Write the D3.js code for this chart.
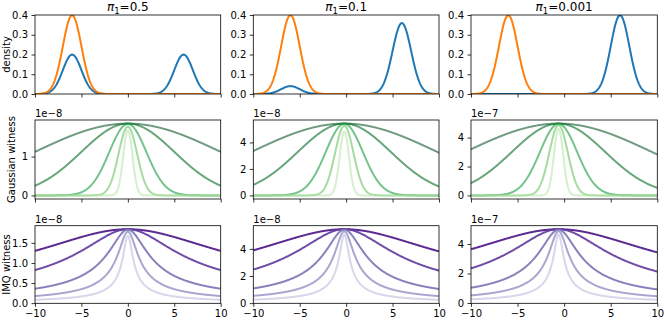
<!DOCTYPE html>
<meta charset="utf-8">
<style>
body { margin: 0; background: #fff; }
svg text { font-family: "DejaVu Sans", sans-serif; fill: #000; }
.tick text { font-size: 10px; }
.tick line { stroke: #000; stroke-width: 0.8px; }
.domain { display: none; }
.frame { fill: none; stroke: #000; stroke-width: 0.8px; }
</style>
<svg width="664" height="321"></svg>
<script src="https://d3js.org/d3.v7.min.js"></script>
<script>

// ---- data ----
var piValues = ["0.5", "0.1", "0.001"];
var mixWeights = [0.5, 0.1, 0.001];     // weight of the left mode in the blue mixture
var modeCenters = [-6, 6];
var modeSd = 1;

var lengthscales = [10, 5, 2, 1, 0.5];
var witnessCenters = [0, -0.2, -0.6];
var gaussPeaks = [
  [1.85, 1.85, 1.84, 1.77, 1.68],
  [5.42, 5.42, 5.40, 5.25, 4.84],
  [4.97, 4.97, 4.95, 4.86, 4.60]
];
var imqPeaks = [
  [1.84, 1.84, 1.83, 1.78, 1.68],
  [5.45, 5.45, 5.42, 5.30, 5.05],
  [5.00, 5.00, 4.97, 4.88, 4.65]
];
var exponents = [-8, -8, -7];

var xTicks = [-10, -5, 0, 5, 10];
var densityTicks = [0.0, 0.1, 0.2, 0.3, 0.4];
var gaussTicks = [[0, 1], [0, 2, 4], [0, 2, 4]];
var imqTicks = [[0.0, 0.5, 1.0, 1.5], [0, 2, 4], [0, 2, 4]];
var gaussTickFmt = [d3.format("d"), d3.format("d"), d3.format("d")];
var imqTickFmt = [d3.format(".1f"), d3.format("d"), d3.format("d")];

var greens = ["#0f5a2b", "#006b21", "#179b3c", "#6bc361", "#b9e4af"];
var purples = ["#4a1486", "#5f3a9d", "#7b74b5", "#a09ccb", "#d3d2e8"];

// ---- layout ----
var svg = d3.select("svg");
var colX = [[35, 220.7], [253.3, 439], [471, 657.3]];
var rowY = [[15, 94], [120, 199], [225.7, 303.3]];
var yLabelX = [10, 15, 10];

var xGrid = d3.range(-10, 10.0001, 0.05);

function normal(x, m, s) {
  return Math.exp(-0.5 * ((x - m) / s) * ((x - m) / s)) / (s * Math.sqrt(2 * Math.PI));
}

function padDomain(lo, hi) {
  var r = hi - lo;
  return [lo - 0.05 * r, hi + 0.05 * r];
}

function drawPanel(col, row, series, yDomain, yTicks, yFmt, showX) {
  var x = d3.scaleLinear().domain([-10, 10]).range(colX[col]);
  var y = d3.scaleLinear().domain(yDomain).range([rowY[row][1], rowY[row][0]]);
  var g = svg.append("g");

  var clipId = "clip" + row + col;
  g.append("clipPath").attr("id", clipId).append("rect")
      .attr("x", colX[col][0]).attr("y", rowY[row][0])
      .attr("width", colX[col][1] - colX[col][0])
      .attr("height", rowY[row][1] - rowY[row][0]);

  var line = d3.line().x(function(d) { return x(d[0]); }).y(function(d) { return y(d[1]); });

  g.append("g").attr("clip-path", "url(#" + clipId + ")")
    .selectAll("path")
    .data(series)
    .enter().append("path")
      .attr("d", function(s) { return line(s.points); })
      .attr("fill", "none")
      .attr("stroke", function(s) { return s.color; })
      .attr("stroke-opacity", function(s) { return s.opacity; })
      .attr("stroke-width", 2)
      .attr("stroke-linejoin", "round");

  g.append("rect").attr("class", "frame")
      .attr("x", colX[col][0]).attr("y", rowY[row][0])
      .attr("width", colX[col][1] - colX[col][0])
      .attr("height", rowY[row][1] - rowY[row][0]);

  var xAxis = d3.axisBottom(x).tickValues(xTicks).tickSize(3.5).tickPadding(3.5)
      .tickFormat(showX ? function(d) { return String(d).replace("-", "\u2212"); } : "");
  g.append("g").attr("transform", "translate(0," + rowY[row][1] + ")").call(xAxis);

  var yAxis = d3.axisLeft(y).tickValues(yTicks).tickSize(3.5).tickPadding(3.5).tickFormat(yFmt);
  g.append("g").attr("transform", "translate(" + colX[col][0] + ",0)").call(yAxis);
  return g;
}

piValues.forEach(function(pv, c) {
  // row 1: densities
  var w = mixWeights[c];
  var blue = xGrid.map(function(t) {
    return [t, w * normal(t, modeCenters[0], modeSd) + (1 - w) * normal(t, modeCenters[1], modeSd)];
  });
  var orange = xGrid.map(function(t) { return [t, normal(t, modeCenters[0], modeSd)]; });
  drawPanel(c, 0, [
    { points: blue, color: "#1f77b4", opacity: 1 },
    { points: orange, color: "#ff7f0e", opacity: 1 }
  ], [0, 0.4], densityTicks, d3.format(".1f"), false);

  // title
  var title = svg.append("text")
      .attr("x", (colX[c][0] + colX[c][1]) / 2)
      .attr("y", 11)
      .attr("text-anchor", "middle")
      .style("font-size", "12px");
  title.append("tspan").style("font-style", "italic").text("\u03c0");
  title.append("tspan").attr("dy", 3).style("font-size", "8.5px").text("1");
  title.append("tspan").attr("dy", -3).text("=" + pv);

  // row 2: gaussian witness
  var m = witnessCenters[c];
  var gSeries = lengthscales.map(function(l, i) {
    return {
      points: xGrid.map(function(t) {
        return [t, gaussPeaks[c][i] * Math.exp(-(t - m) * (t - m) / (2 * l * l))];
      }),
      color: greens[i], opacity: 0.6
    };
  });
  var gAll = [].concat.apply([], gSeries.map(function(s) { return s.points.map(function(p) { return p[1]; }); }));
  drawPanel(c, 1, gSeries, padDomain(d3.min(gAll), d3.max(gAll)), gaussTicks[c], gaussTickFmt[c], false);

  // row 3: IMQ witness
  var iSeries = lengthscales.map(function(l, i) {
    return {
      points: xGrid.map(function(t) {
        return [t, imqPeaks[c][i] / Math.sqrt(1 + (t - m) * (t - m) / (l * l))];
      }),
      color: purples[i], opacity: 0.9
    };
  });
  var iAll = [].concat.apply([], iSeries.map(function(s) { return s.points.map(function(p) { return p[1]; }); }));
  drawPanel(c, 2, iSeries, padDomain(d3.min(iAll), d3.max(iAll)), imqTicks[c], imqTickFmt[c], true);

  // offset text
  [1, 2].forEach(function(r) {
    svg.append("text")
        .attr("x", colX[c][0])
        .attr("y", rowY[r][0] - 3)
        .style("font-size", "10px")
        .text("1e\u2212" + (-exponents[c]));
  });
});

// y labels
var yLabels = ["density", "Gaussian witness", "IMQ witness"];
yLabels.forEach(function(t, r) {
  svg.append("text")
      .attr("transform", "translate(" + yLabelX[r] + "," + ((rowY[r][0] + rowY[r][1]) / 2) + ") rotate(-90)")
      .attr("text-anchor", "middle")
      .style("font-size", "10px")
      .text(t);
});

</script>
